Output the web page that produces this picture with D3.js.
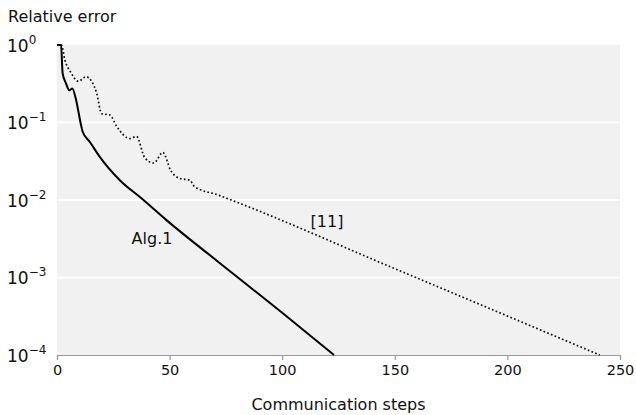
<!DOCTYPE html>
<html>
<head>
<meta charset="utf-8">
<script src="https://cdn.jsdelivr.net/npm/d3@7"></script>
<style>
  body { margin: 0; background: #fff; }
  text { font-family: "DejaVu Sans", sans-serif; fill: #111; }
</style>
</head>
<body>
<div id="chart"></div>
<script>
// Alg.1 (solid)
const algSteps = [0, 1.8, 2.5, 4, 5.5, 6.8, 8.4, 10.5, 11.4, 14.6, 19, 27.9, 37.5, 48.6, 71.5, 100, 123]
const algError = [1, 1, 0.43, 0.32, 0.26, 0.275, 0.2, 0.098, 0.076, 0.056, 0.036, 0.018, 0.0105, 0.0055, 0.0016, 0.00035, 0.0001]

// [11] (dotted)
const refSteps = [0, 2, 3.5, 6, 9.5, 12.9, 15.4, 17.6, 19.8, 23.5, 26.5, 32.4, 35.3, 39, 43, 47, 50.5, 54.5, 59, 61, 71.5, 150, 241]
const refError = [1, 1, 0.64, 0.45, 0.34, 0.39, 0.34, 0.24, 0.13, 0.125, 0.089, 0.062, 0.066, 0.035, 0.03, 0.041, 0.024, 0.019, 0.018, 0.015, 0.0116, 0.0013, 0.0001]

const xTicks = [0, 50, 100, 150, 200, 250]
const yExponents = [0, -1, -2, -3, -4]

const width = 636, height = 415
const margin = { top: 45, right: 16, bottom: 60, left: 57 }
const innerW = width - margin.left - margin.right
const innerH = height - margin.top - margin.bottom

const svg = d3.select('#chart').append('svg')
  .attr('width', width)
  .attr('height', height)

const g = svg.append('g')
  .attr('transform', `translate(${margin.left}, ${margin.top})`)

const x = d3.scaleLinear().domain([0, 250]).range([0, innerW])
const y = d3.scaleLog().domain([1e-4, 1]).range([innerH, 0])

g.append('rect')
  .attr('width', innerW)
  .attr('height', innerH)
  .attr('fill', '#f1f1f1')

// white decade grid lines
g.selectAll('.grid')
  .data(yExponents.slice(1, -1))
  .join('line')
  .attr('class', 'grid')
  .attr('x1', 0)
  .attr('x2', innerW)
  .attr('y1', d => y(Math.pow(10, d)))
  .attr('y2', d => y(Math.pow(10, d)))
  .attr('stroke', '#fff')
  .attr('stroke-width', 2)

// bottom axis
const xAxis = g.append('g')
  .attr('transform', `translate(0, ${innerH})`)
  .call(d3.axisBottom(x).tickValues(xTicks).tickSize(5).tickPadding(5))
xAxis.select('.domain').attr('stroke', '#999').attr('stroke-width', 1.2)
xAxis.selectAll('.tick line').attr('stroke', '#999').attr('stroke-width', 1.2)
xAxis.selectAll('.tick text')
  .style('font-size', '14.5px')
  .style('font-family', '"DejaVu Sans", sans-serif')
  .attr('fill', '#111')

// y tick labels as 10^n
const yLab = svg.append('g')
yLab.selectAll('text')
  .data(yExponents)
  .join('text')
  .attr('x', 7)
  .attr('y', d => margin.top + y(Math.pow(10, d)) + 6.5)
  .style('font-size', '17px')
  .each(function (d) {
    const t = d3.select(this)
    t.append('tspan').text('10')
    t.append('tspan')
      .attr('dy', -8)
      .style('font-size', '12px')
      .text(d === 0 ? '0' : '\u2212' + Math.abs(d))
  })

const line = d3.line()
  .x(d => x(d[0]))
  .y(d => y(d[1]))
  .curve(d3.curveMonotoneX)

g.append('path')
  .datum(refSteps.map((s, i) => [s, refError[i]]))
  .attr('fill', 'none')
  .attr('stroke', '#111')
  .attr('stroke-width', 1.7)
  .attr('stroke-dasharray', '1.7,2.3')
  .attr('d', line)

g.append('path')
  .datum(algSteps.map((s, i) => [s, algError[i]]))
  .attr('fill', 'none')
  .attr('stroke', '#000')
  .attr('stroke-width', 2)
  .attr('d', line)

// series labels
svg.append('text')
  .attr('x', 152)
  .attr('y', 244)
  .attr('text-anchor', 'middle')
  .style('font-size', '16px')
  .text('Alg.1')

svg.append('text')
  .attr('x', 327)
  .attr('y', 227)
  .attr('text-anchor', 'middle')
  .style('font-size', '16px')
  .text('[11]')

// axis titles
svg.append('text')
  .attr('x', 8)
  .attr('y', 22)
  .style('font-size', '16px')
  .text('Relative error')

svg.append('text')
  .attr('x', margin.left + innerW / 2)
  .attr('y', 410)
  .attr('text-anchor', 'middle')
  .style('font-size', '16px')
  .text('Communication steps')
</script>
</body>
</html>
